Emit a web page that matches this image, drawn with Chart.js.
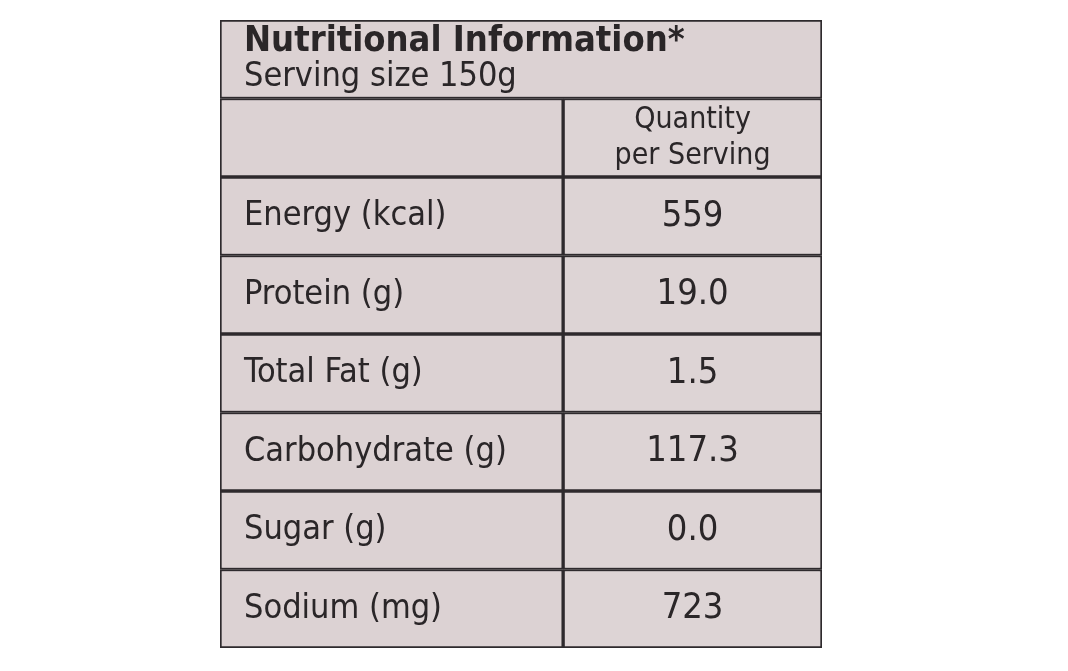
<!DOCTYPE html>
<html>
<head>
<meta charset="utf-8">
<script src="https://cdn.jsdelivr.net/npm/chart.js@4/dist/chart.umd.min.js"></script>
<style>
  body { margin: 0; background: #fff; }
  #wrap { width: 1068px; height: 671px; }
</style>
</head>
<body>
<div id="wrap"><canvas id="label"></canvas></div>
<script>
const title = "Nutritional Information*";
const subtitle = "Serving size 150g";
const columnHeader = ["Quantity", "per Serving"];
const nutrients = ["Energy (kcal)", "Protein (g)", "Total Fat (g)", "Carbohydrate (g)", "Sugar (g)", "Sodium (mg)"];
const amounts = ["559", "19.0", "1.5", "117.3", "0.0", "723"];

const rows = ["title", "header"].concat(nutrients);
const split = 1.14;

const textPlugin = {
    id: "labelText",
    afterDatasetsDraw(chart) {
        const ctx = chart.ctx;
        const x = chart.scales.x, y = chart.scales.y;
        const font = "'Liberation Sans Narrow', 'Arial Narrow', 'DejaVu Sans Condensed', sans-serif";
        ctx.save();
        ctx.fillStyle = "#2a2628";
        ctx.textBaseline = "middle";
        const left = x.getPixelForValue(0) + 24;
        const mid = (x.getPixelForValue(split) + x.getPixelForValue(2)) / 2;

        const ty = y.getPixelForValue(0);
        ctx.textAlign = "left";
        ctx.font = "bold 36px " + font;
        ctx.fillText(title, left, ty - 18);
        ctx.font = "34px " + font;
        ctx.fillText(subtitle, left, ty + 18);

        const hy = y.getPixelForValue(1);
        ctx.textAlign = "center";
        ctx.font = "30px " + font;
        ctx.fillText(columnHeader[0], mid, hy - 18);
        ctx.fillText(columnHeader[1], mid, hy + 18);

        nutrients.forEach((n, i) => {
            const py = y.getPixelForValue(i + 2);
            ctx.textAlign = "left";
            ctx.font = "34px " + font;
            ctx.fillText(n, left, py);
            ctx.textAlign = "center";
            ctx.font = "36px " + font;
            ctx.fillText(amounts[i], mid, py);
        });
        ctx.restore();
    }
};

new Chart(document.getElementById("label"), {
    type: "bar",
    data: {
        labels: rows,
        datasets: [
            {
                data: rows.map((r, i) => i === 0 ? [0, 2] : [0, split]),
                backgroundColor: "#dcd2d3",
                borderColor: "#2e2a2d",
                borderWidth: 2,
                borderSkipped: false,
                categoryPercentage: 1,
                barPercentage: 1
            },
            {
                data: rows.map((r, i) => i === 0 ? null : [split, 2]),
                backgroundColor: "#ddd4d5",
                borderColor: "#2e2a2d",
                borderWidth: 2,
                borderSkipped: false,
                categoryPercentage: 1,
                barPercentage: 1
            }
        ]
    },
    options: {
        indexAxis: "y",
        responsive: true,
        maintainAspectRatio: false,
        animation: false,
        layout: { padding: { left: 220, right: 246, top: 20, bottom: 23 } },
        scales: {
            x: { display: false, min: 0, max: 2 },
            y: { display: false, stacked: true }
        },
        plugins: { legend: { display: false }, tooltip: { enabled: false } }
    },
    plugins: [textPlugin]
});
</script>
</body>
</html>
